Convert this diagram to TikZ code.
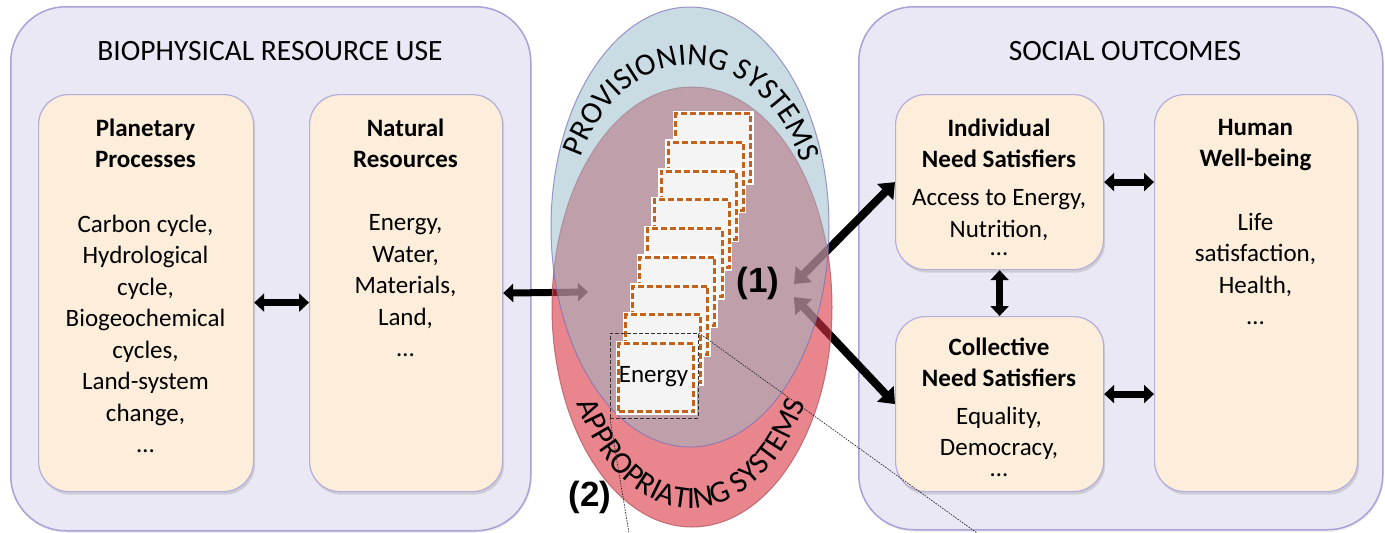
\documentclass[tikz,border=0pt]{standalone}
\usepackage{fontspec}
\setmainfont{Carlito}
\newfontfamily\arialfont{Liberation Sans}
\usetikzlibrary{arrows.meta,shadows,decorations.text}
\definecolor{bbfill}{RGB}{233,232,244}
\definecolor{bbdraw}{RGB}{168,162,214}
\definecolor{ibfill}{RGB}{253,238,219}
\definecolor{ibdraw}{RGB}{180,174,218}
\definecolor{provc}{RGB}{149,185,199}
\definecolor{provd}{RGB}{120,110,180}
\definecolor{approc}{RGB}{218,53,65}
\definecolor{approd}{RGB}{180,90,100}
\definecolor{cardorange}{RGB}{196,98,28}
\definecolor{cardfill}{RGB}{244,244,244}
\begin{document}
\begin{tikzpicture}[x=1pt,y=1pt,
  bigbox/.style={draw=bbdraw, fill=bbfill, rounded corners=55pt, line width=1.5pt, inner sep=0pt,
    drop shadow={shadow xshift=1pt, shadow yshift=-2pt, opacity=0.15}},
  inbox/.style={draw=ibdraw, fill=ibfill, rounded corners=30pt, line width=1.2pt, inner sep=0pt,
    drop shadow={shadow xshift=1.5pt, shadow yshift=-3pt, opacity=0.25}},
  titletext/.style={font=\fontsize{29.5}{35}\selectfont, inner sep=0pt},
  hd/.style={font=\bfseries\fontsize{25}{31}\selectfont, align=center, inner sep=0pt},
  bodytext/.style={font=\fontsize{25}{31.5}\selectfont, align=center, inner sep=0pt},
  arr/.style={line width=7pt, {Triangle[width=18pt,length=10pt]}-{Triangle[width=18pt,length=10pt]}},
  darr/.style={line width=8pt, {Triangle[width=22pt,length=14pt]}-{Triangle[width=22pt,length=14pt]}},
  card/.style={fill=cardfill, draw=cardorange, line width=3pt, dash pattern=on 6pt off 3pt,
    preaction={draw=white, line width=6pt, solid}, minimum width=75pt, minimum height=68pt, inner sep=0pt},
  zoomrect/.style={draw=black!80, line width=0.9pt, dash pattern=on 4pt off 2pt, inner sep=0pt},
  dotl/.style={draw=black!85, line width=0.7pt, dash pattern=on 1.5pt off 1.2pt},
  num/.style={font=\arialfont\bfseries\fontsize{35}{35}\selectfont, inner sep=0pt}
]
\useasboundingbox (0,0) rectangle (1385,-533);
% big boxes
\node[bigbox, anchor=north west, minimum width=520pt, minimum height=524pt] (bru) at (10,-6) {};
\node[bigbox, anchor=north west, minimum width=524pt, minimum height=523pt] (soc) at (858,-6) {};
\node[titletext] (brut) at (270,-51) {BIOPHYSICAL RESOURCE USE};
\node[titletext] (soct) at (1125,-51) {SOCIAL OUTCOMES};
% inner boxes
\node[inbox, anchor=north west, minimum width=215pt, minimum height=397pt] (pp) at (38,-94) {};
\node[inbox, anchor=north west, minimum width=193pt, minimum height=397pt] (nr) at (309,-94) {};
\node[inbox, anchor=north west, minimum width=208pt, minimum height=175pt] (ind) at (895,-94) {};
\node[inbox, anchor=north west, minimum width=208pt, minimum height=175pt] (col) at (895,-316) {};
\node[inbox, anchor=north west, minimum width=203pt, minimum height=397pt] (hum) at (1154,-94) {};
% texts
\node[hd] (pph) at (145.5,-143) {Planetary\\Processes};
\node[bodytext] (ppb) at (145.5,-334) {Carbon cycle,\\Hydrological\\cycle,\\Biogeochemical\\cycles,\\Land-system\\change,\\…};
\node[hd] (nrh) at (405.5,-143) {Natural\\Resources};
\node[bodytext] (nrb) at (405.5,-286) {Energy,\\Water,\\Materials,\\Land,\\…};
\node[hd] (indh) at (999,-143) {Individual\\Need Satisfiers};
\node[bodytext] (indb) at (999,-222.5) {Access to Energy,\\Nutrition,\\[-13.5pt]…};
\node[hd] (colh) at (999,-362.5) {Collective\\Need Satisfiers};
\node[bodytext] (colb) at (999,-442) {Equality,\\Democracy,\\[-10.5pt]…};
\node[hd] (humh) at (1255.5,-145.5) {Human\\Well-being};
\node[bodytext] (humb) at (1255.5,-269) {Life\\satisfaction,\\Health,\\…};
% arrows
\coordinate (lt) at (588,-292);
\coordinate (p1a) at (794,-284);
\coordinate (p1b) at (794,-297);
\draw[arr] ([yshift=-9.5pt]pp.east) -- ([yshift=-9.5pt]pp.east -| nr.west);
\draw[arr] (nr.east) -- (lt);
\draw[darr] (p1a) -- (ind.west);
\draw[darr] (p1b) -- (col.west);
\draw[arr] (ind.east) -- (ind.east -| hum.west);
\draw[arr] ([yshift=10pt]col.east) -- ([yshift=10pt]col.east -| hum.west);
\draw[arr] (ind.south) -- (col.north);
% ellipses
\path[draw=approd, fill=approc, fill opacity=0.6, draw opacity=0.8, line width=1pt] (692,-307) ellipse [x radius=140, y radius=220];
\path[draw=provd, fill=provc, fill opacity=0.5, draw opacity=0.7, line width=1pt] (690,-227) ellipse [x radius=139, y radius=220];
% curved texts
\path[decorate, decoration={text along path, text align=center,
  text={|\fontsize{31}{31}\selectfont|PROVISIONING SYSTEMS}}]
  ([shift={(690,-230)}]158:122 and 165) arc[start angle=158, end angle=20, x radius=122, y radius=165];
\path[decorate, decoration={text along path, text align=center,
  text={|\fontsize{31}{31}\selectfont|APPROPRIATING SYSTEMS}}]
  ([shift={(691,-307)}]208:130 and 201) arc[start angle=208, end angle=332, x radius=130, y radius=201];
% cards
\foreach \i in {0,...,7}
  \node[card, anchor=north west] (card\i) at ({674-7.125*\i},{-112-28.75*\i}) {};
\node[card, anchor=north west] (card8) at (617,-342) {};
\node[bodytext] (energy) at (653.5,-377) {Energy};
% zoom box
\node[zoomrect, anchor=north west, minimum width=88pt, minimum height=85pt] (zb) at (610,-333) {};
\coordinate (d1) at (977,-533);
\coordinate (d2) at (629,-533);
\draw[dotl] (zb.north east) -- (d1);
\draw[dotl] (zb.south west) -- (d2);
% numbers
\node[num] (n1) at (758,-283) {(1)};
\node[num] (n2) at (590,-497) {(2)};
\end{tikzpicture}
\end{document}
